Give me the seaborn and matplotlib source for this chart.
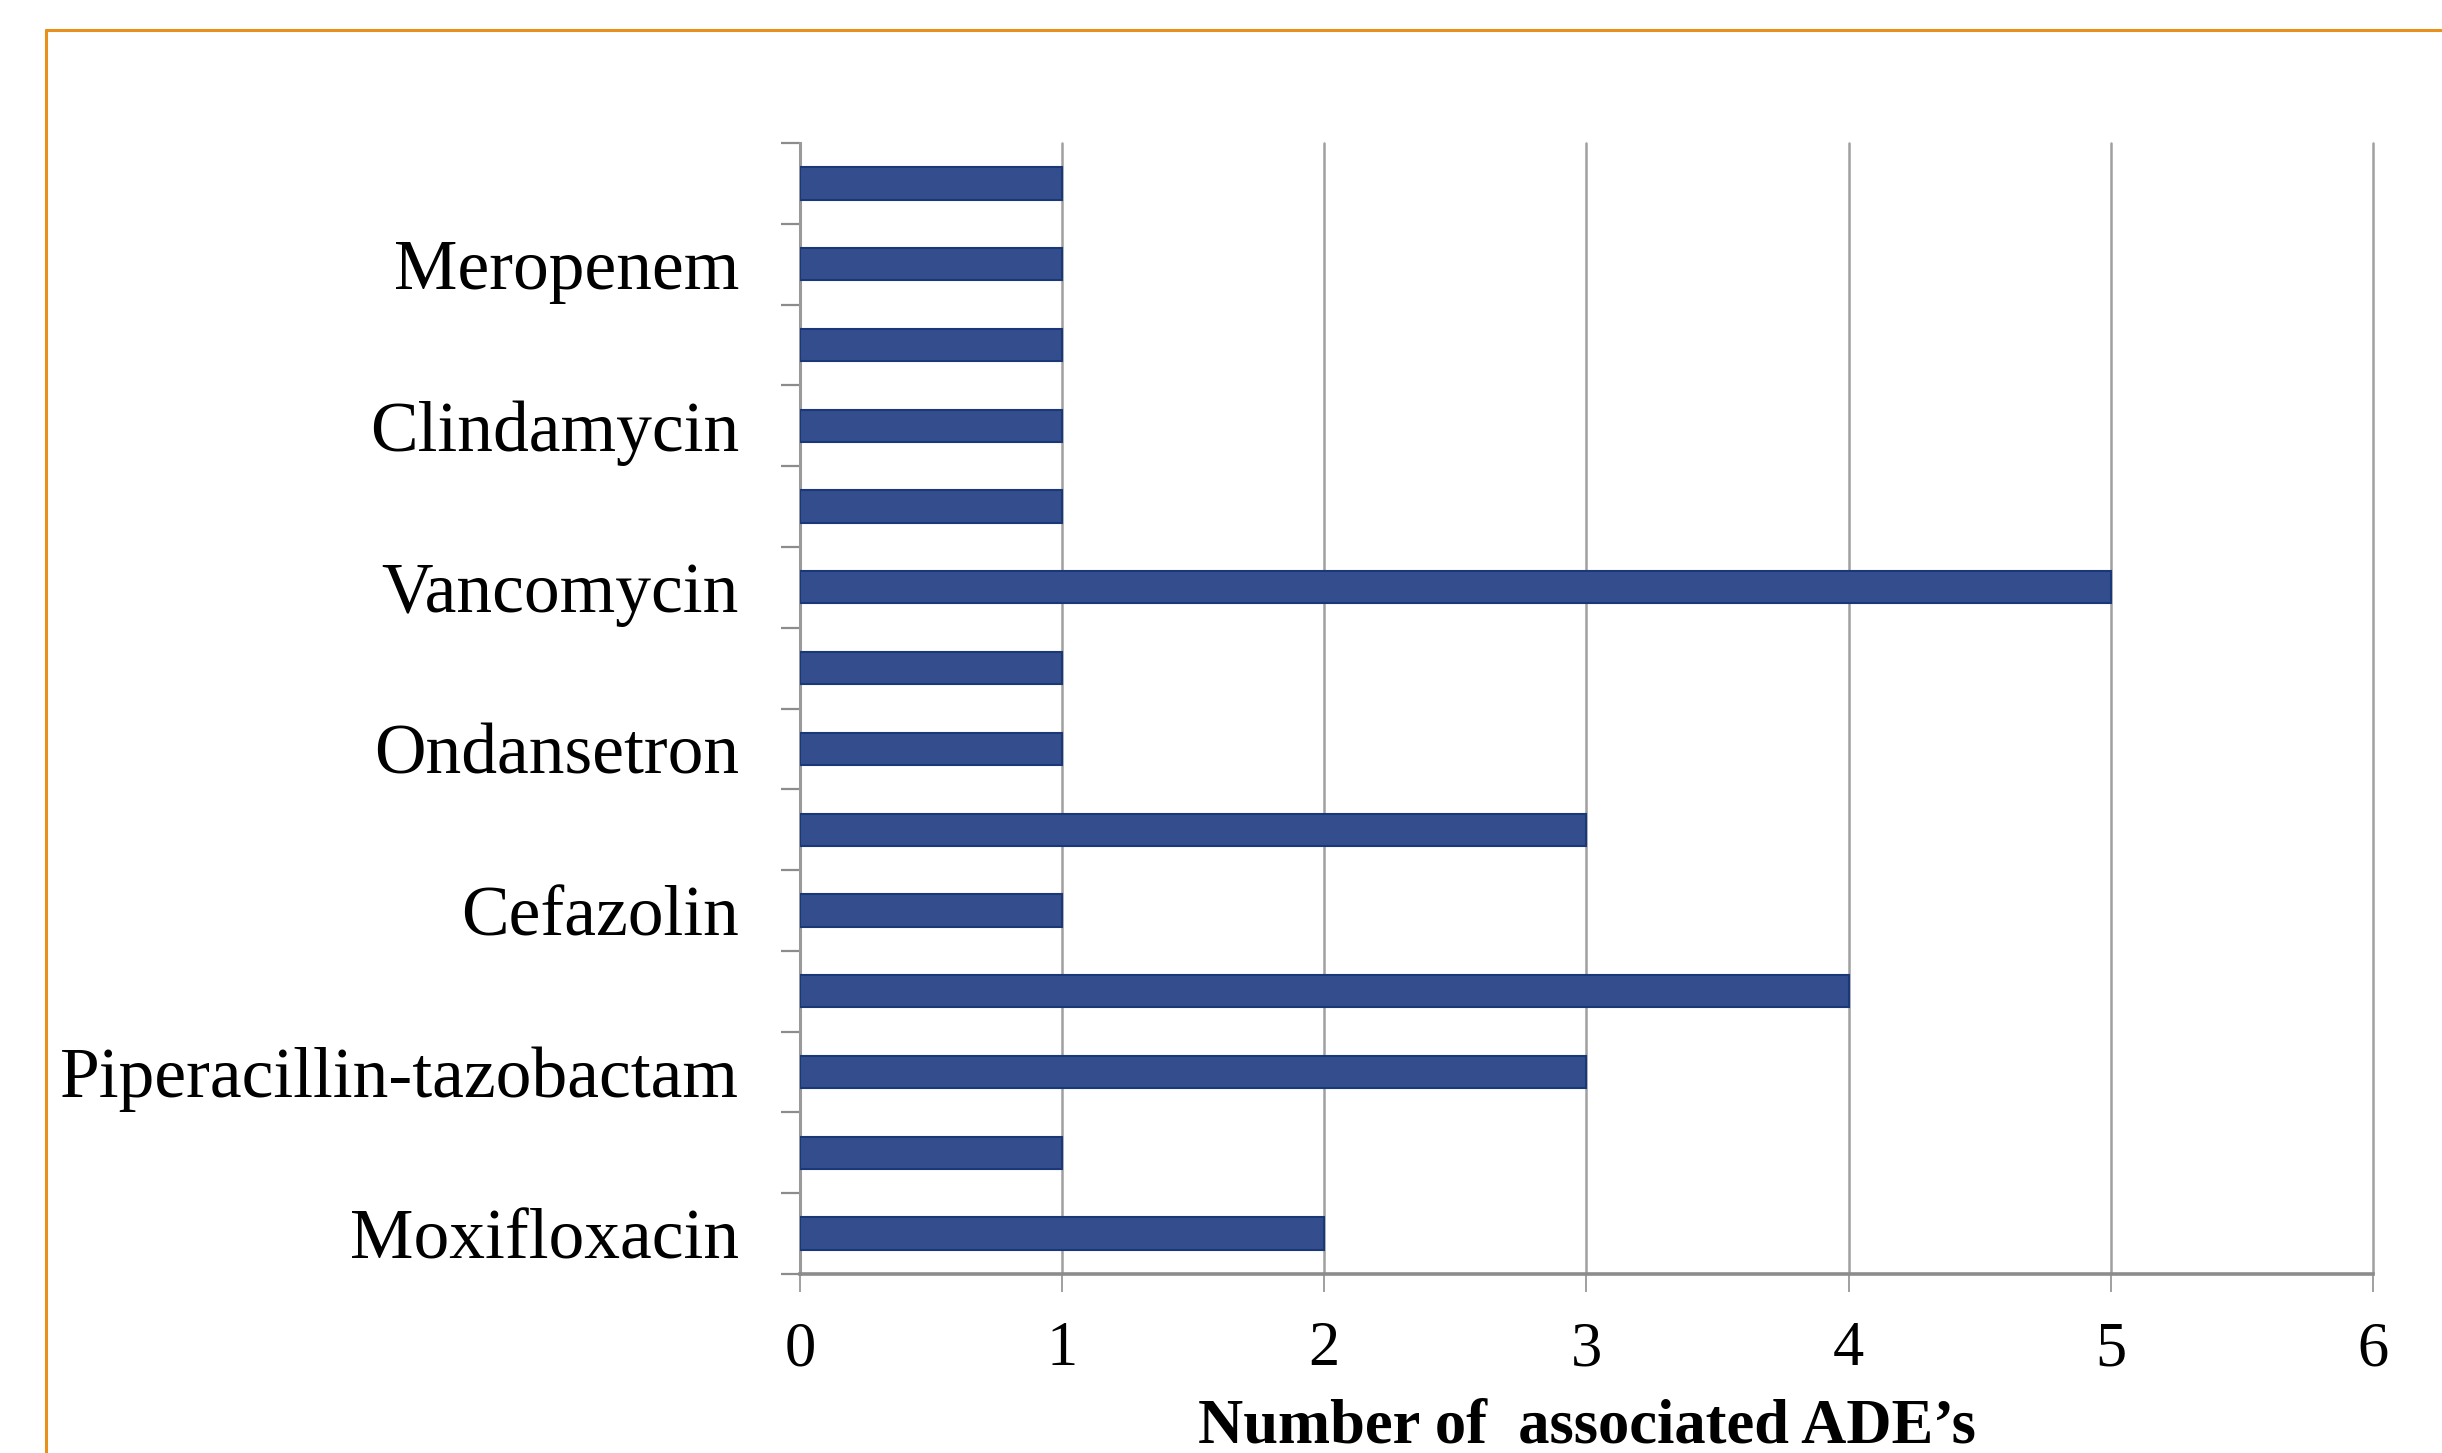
import matplotlib
matplotlib.use("Agg")
import matplotlib.pyplot as plt
import seaborn as sns
import pandas as pd
import numpy as np
from matplotlib.lines import Line2D

# Drugs listed top to bottom; only every other row carries a visible label
drug_labels = ["", "Meropenem", "", "Clindamycin", "", "Vancomycin", "",
               "Ondansetron", "", "Cefazolin", "", "Piperacillin-tazobactam",
               "", "Moxifloxacin"]
ade_counts = [1, 1, 1, 1, 1, 5, 1, 1, 3, 1, 4, 3, 1, 2]
x_ticks = [0, 1, 2, 3, 4, 5, 6]
x_title = "Number of  associated ADE\u2019s"

df = pd.DataFrame({"slot": list(range(len(ade_counts))), "count": ade_counts})

sns.set_theme(style="white")
plt.rcParams["font.family"] = ["Liberation Serif", "DejaVu Serif"]
plt.rcParams["text.color"] = "black"
plt.rcParams["axes.labelcolor"] = "black"

W, H = 2442, 1453
fig = plt.figure(figsize=(W / 100, H / 100), dpi=100)
ax = fig.add_axes([800 / W, 1 - 1274 / H, (2373 - 800) / W, (1274 - 143) / H])

sns.barplot(data=df, x="count", y="slot", orient="h", order=df["slot"].tolist(),
            color="#344E8D", saturation=1, width=0.4,
            edgecolor="#1A3778", linewidth=1.5, ax=ax, zorder=3)

n = len(ade_counts)
ax.set_ylim(n - 0.5, -0.5)
ax.set_xlim(0, 6)
ax.set_xticks(x_ticks)
ax.set_xticklabels([str(t) for t in x_ticks], fontsize=45, color="black")

# labels at row centres, short tick marks at row boundaries
ax.set_yticks(range(n))
ax.set_yticklabels(drug_labels, fontsize=51.5, color="black")
ax.set_yticks(np.arange(-0.5, n, 1.0), minor=True)
ax.tick_params(axis="y", which="major", length=0, pad=44)
ax.tick_params(axis="y", which="minor", left=True, length=14, width=1.6, color="#8C8C8C")
ax.tick_params(axis="x", which="major", bottom=True, length=13, width=1.4,
               color="#A0A0A0", pad=21)

ax.set_ylabel("")
ax.set_xlabel(x_title, fontsize=45, fontweight="bold", labelpad=14, color="black")

ax.xaxis.grid(True, color="#A0A0A0", linewidth=1.8)
for gl in ax.get_xgridlines():
    gl.set_clip_on(False)
ax.yaxis.grid(False)
ax.set_axisbelow(True)

for side in ("top", "right"):
    ax.spines[side].set_visible(False)
ax.spines["left"].set_color("#9A9A9A")
ax.spines["left"].set_linewidth(2.2)
ax.spines["bottom"].set_color("#8C8C8C")
ax.spines["bottom"].set_linewidth(2.6)

# orange frame around the slide area
frame_color = "#E8901C"
fig.add_artist(Line2D([46 / W, 1.0], [1 - 30 / H, 1 - 30 / H], transform=fig.transFigure,
                      color=frame_color, linewidth=2.2))
fig.add_artist(Line2D([46 / W, 46 / W], [0.0, 1 - 30 / H], transform=fig.transFigure,
                      color=frame_color, linewidth=2.2))

fig.savefig("out.png", dpi=100, facecolor="white")
